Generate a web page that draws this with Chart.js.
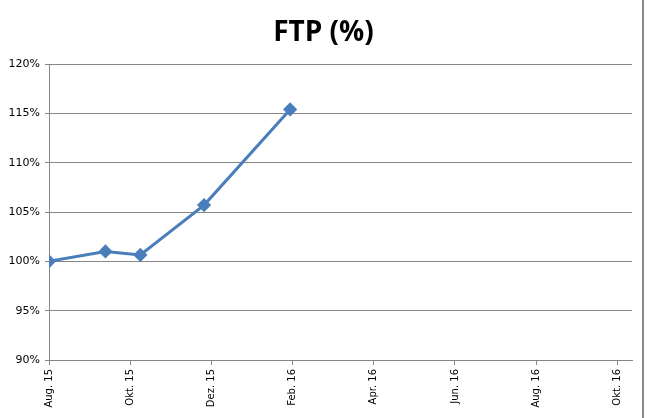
<!DOCTYPE html>
<html>
<head>
<meta charset="utf-8">
<script src="https://cdn.jsdelivr.net/npm/chart.js@4/dist/chart.umd.min.js"></script>
<style>
  html, body { margin: 0; padding: 0; background: #fff; }
  #wrap { width: 647px; height: 418px; position: relative; }
</style>
</head>
<body>
<div id="wrap"><canvas id="ftp-chart"></canvas></div>
<script>
// months since Aug. 2015 (x) and FTP in % (y)
const monthOffsets = [0, 1.39, 2.25, 3.82, 5.94];
const ftpValues = [100, 101.0, 100.65, 105.7, 115.4];

// x axis ticks: every 2 months
const tickPositions = [0, 2, 4, 6, 8, 10, 12, 14];
const tickLabels = ["Aug. 15", "Okt. 15", "Dez. 15", "Feb. 16", "Apr. 16", "Jun. 16", "Aug. 16", "Okt. 16"];

const chartTitle = "FTP (%)";
const lineColor = "#4A7EBB";
const gridColor = "#868686";

// title + outer frame on the right
const excelFrame = {
  id: "excelFrame",
  afterDraw(chart) {
    const ctx = chart.ctx;
    ctx.save();
    ctx.fillStyle = "#000";
    ctx.font = "bold 28px 'Open Sans'";
    ctx.textAlign = "center";
    ctx.textBaseline = "alphabetic";
    ctx.fillText(chartTitle, 323.5, 41);
    ctx.strokeStyle = "#8a8a8a";
    ctx.lineWidth = 2;
    ctx.beginPath();
    ctx.moveTo(643, 0);
    ctx.lineTo(643, 418);
    ctx.stroke();
    ctx.restore();
  }
};

const points = monthOffsets.map((m, i) => ({ x: m, y: ftpValues[i] }));

new Chart(document.getElementById("ftp-chart"), {
  type: "line",
  data: {
    datasets: [
      {
        data: points,
        borderColor: lineColor,
        backgroundColor: lineColor,
        borderWidth: 3,
        pointStyle: "rectRot",
        pointRadius: 5,
        pointHoverRadius: 5,
        tension: 0,
      },
    ],
  },
  options: {
    responsive: true,
    maintainAspectRatio: false,
    animation: false,
    layout: { padding: { top: 64, right: 15, left: 0, bottom: 0 } },
    plugins: {
      legend: { display: false },
      title: { display: false },
      tooltip: { enabled: false },
    },
    scales: {
      x: {
        type: "linear",
        min: 0,
        max: 14.36,
        afterBuildTicks: (scale) => {
          scale.ticks = tickPositions.map((v) => ({ value: v }));
        },
        afterFit: (scale) => { scale.height = 58; },
        ticks: {
          autoSkip: false,
          minRotation: 90,
          maxRotation: 90,
          padding: 4,
          color: "#000",
          font: { family: "DejaVu Sans", size: 10 },
          callback: (v) => {
            const i = tickPositions.indexOf(v);
            return i >= 0 ? tickLabels[i] : "";
          },
        },
        grid: {
          drawOnChartArea: false,
          drawTicks: true,
          tickLength: 5,
          color: gridColor,
        },
        border: { color: gridColor, width: 1 },
      },
      y: {
        min: 90,
        max: 120,
        afterFit: (scale) => { scale.width = 49; },
        ticks: {
          stepSize: 5,
          padding: 5,
          color: "#000",
          font: { family: "DejaVu Sans", size: 11 },
          callback: (v) => v + "%",
        },
        grid: {
          color: gridColor,
          tickLength: 4,
        },
        border: { color: gridColor, width: 1 },
      },
    },
  },
  plugins: [excelFrame],
});
</script>
</body>
</html>
